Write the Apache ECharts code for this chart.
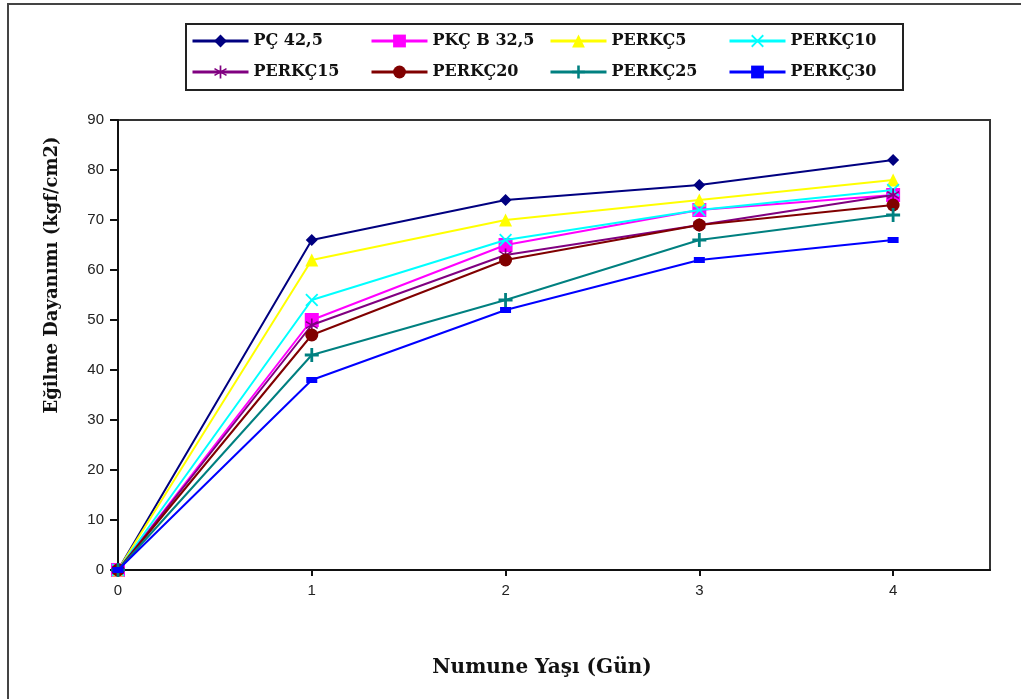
<!DOCTYPE html>
<html>
<head>
<meta charset="utf-8">
<script src="https://cdn.jsdelivr.net/npm/echarts@6/dist/echarts.min.js"></script>
<style>html,body{margin:0;padding:0;background:#fff}#c{width:1021px;height:699px}</style>
</head>
<body>
<div id="c"></div>
<script>
const ages = [0, 1, 2, 3, 4];
const seriesNames = ['PÇ 42,5', 'PKÇ B 32,5', 'PERKÇ5', 'PERKÇ10', 'PERKÇ15', 'PERKÇ20', 'PERKÇ25', 'PERKÇ30'];
const pc425    = [0, 66, 74, 77, 82];
const pkcb325  = [0, 50, 65, 72, 75];
const perkc5   = [0, 62, 70, 74, 78];
const perkc10  = [0, 54, 66, 72, 76];
const perkc15  = [0, 49, 63, 69, 75];
const perkc20  = [0, 47, 62, 69, 73];
const perkc25  = [0, 43, 54, 66, 71];
const perkc30  = [0, 38, 52, 62, 66];
const yTicks = [0, 10, 20, 30, 40, 50, 60, 70, 80, 90];
const xTitle = 'Numune Yaşı (Gün)';
const yTitle = 'Eğilme Dayanımı (kgf/cm2)';

const values = [pc425, pkcb325, perkc5, perkc10, perkc15, perkc20, perkc25, perkc30];
const colors = ['#000080', '#FF00FF', '#FFFF00', '#00FFFF', '#800080', '#800000', '#008080', '#0000FF'];
const plus = 'path://M-1,-0.2L-0.2,-0.2L-0.2,-1L0.2,-1L0.2,-0.2L1,-0.2L1,0.2L0.2,0.2L0.2,1L-0.2,1L-0.2,0.2L-1,0.2Z';
const cross = 'path://M-1,-0.8L-0.8,-1L0,-0.2L0.8,-1L1,-0.8L0.2,0L1,0.8L0.8,1L0,0.2L-0.8,1L-1,0.8L-0.2,0Z';
const aster = 'path://M-0.13,-1L0.13,-1L0.13,-0.2L0.85,-0.62L0.97,-0.42L0.25,0L0.97,0.42L0.85,0.62L0.13,0.2L0.13,1L-0.13,1L-0.13,0.2L-0.85,0.62L-0.97,0.42L-0.25,0L-0.97,-0.42L-0.85,-0.62L-0.13,-0.2Z';
const symbols = ['diamond', 'rect', 'triangle', cross, aster, 'circle', plus, 'rect'];
const sizes = [12, 14, 13, 13, 13, 13, 14, [11, 6]];

const series = seriesNames.map((n, i) => ({
  name: n,
  type: 'line',
  data: ages.map((a, j) => [a, values[i][j]]),
  symbol: symbols[i],
  symbolSize: sizes[i],
  symbolKeepAspect: true,
  showAllSymbol: true,
  lineStyle: { color: colors[i], width: 2 },
  itemStyle: { color: colors[i], borderColor: colors[i], borderWidth: 0 },
  emphasis: { disabled: true },
  animation: false,
  z: 2 + i
}));

const colX = [191, 370, 549, 728];
const rowY = [33, 64];
const legends = seriesNames.map((n, i) => ({
  data: [n],
  left: colX[i % 4],
  top: rowY[Math.floor(i / 4)],
  itemWidth: 56,
  itemHeight: 16,
  itemGap: 3,
  padding: 0,
  selectedMode: false,
  lineStyle: { width: 3 },
  textStyle: { fontFamily: 'DejaVu Serif', fontWeight: 'bold', fontSize: 16, color: '#111' }
}));

const chart = echarts.init(document.getElementById('c'), null, { renderer: 'canvas' });
chart.setOption({
  backgroundColor: '#fff',
  animation: false,
  legend: legends,
  grid: { left: 118, top: 120, right: 31, bottom: 129, show: true, borderColor: '#333', borderWidth: 2, backgroundColor: 'transparent' },
  xAxis: {
    type: 'value', min: 0, max: 4.5, interval: 1,
    axisLine: { lineStyle: { color: '#111', width: 2 } },
    axisTick: { show: true, length: 6, lineStyle: { color: '#111', width: 2 } },
    splitLine: { show: false },
    axisLabel: {
      showMaxLabel: false, margin: 13,
      fontFamily: 'Liberation Sans', fontSize: 15, color: '#222',
      formatter: v => Number.isInteger(v) && ages.indexOf(v) >= 0 ? String(v) : ''
    }
  },
  yAxis: {
    type: 'value', min: yTicks[0], max: yTicks[yTicks.length - 1], interval: 10,
    axisLine: { show: true, lineStyle: { color: '#111', width: 2 } },
    axisTick: { show: true, length: 8, lineStyle: { color: '#111', width: 2 } },
    splitLine: { show: false },
    axisLabel: { margin: 14, fontFamily: 'Liberation Sans', fontSize: 15, color: '#222' }
  },
  graphic: [
    { type: 'rect', shape: { x: 8, y: 4, width: 1040, height: 740 }, style: { fill: 'none', stroke: '#444', lineWidth: 2 }, z: 0, silent: true },
    { type: 'rect', shape: { x: 186, y: 24, width: 717, height: 66 }, style: { fill: 'none', stroke: '#222', lineWidth: 2 }, z: 0, silent: true },
    { type: 'text', x: 542, y: 668, style: { text: xTitle, font: 'bold 20px "DejaVu Serif"', fill: '#111', align: 'center', verticalAlign: 'middle' }, silent: true },
    { type: 'text', x: 52, y: 275, rotation: Math.PI / 2, style: { text: yTitle, font: 'bold 18px "DejaVu Serif"', fill: '#111', align: 'center', verticalAlign: 'middle' }, silent: true }
  ],
  series: series
});
</script>
</body>
</html>
